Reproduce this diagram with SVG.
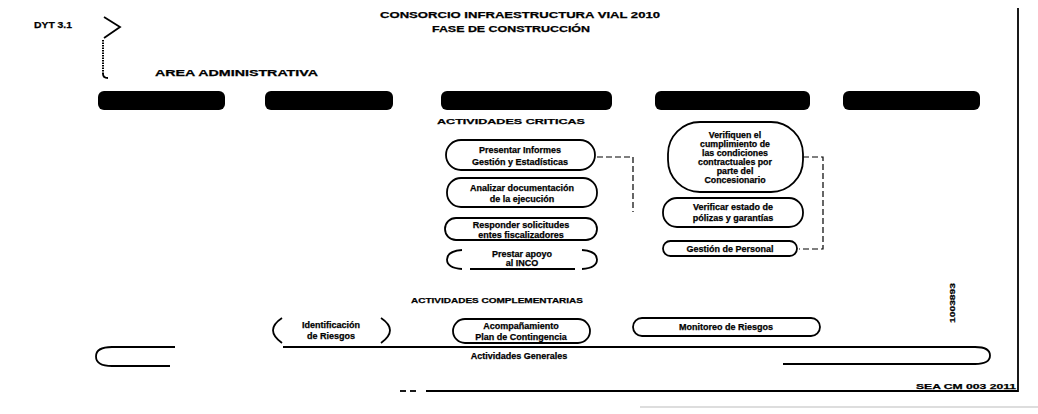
<svg xmlns="http://www.w3.org/2000/svg" width="1038" height="414" viewBox="0 0 1038 414">
<style>
 text{font-family:"Liberation Sans",Arial,sans-serif;font-weight:bold;fill:#000;stroke:#000;stroke-width:0.25}
 .t{font-size:9px;text-anchor:middle}
 .s{font-size:8.8px}
 .h{font-size:9px}
 .bar{fill:#000}
 .ov{fill:none;stroke:#000;stroke-width:1.8}
 .dash{fill:none;stroke:#000;stroke-width:1.2;stroke-dasharray:6 3}
 .ln{fill:none;stroke:#000;stroke-width:1.8}
</style>
<rect width="1038" height="414" fill="#fff"/>
<g id="header">
 <text x="34" y="28" class="h" font-size="8" textLength="38" lengthAdjust="spacingAndGlyphs">DYT 3.1</text>
 <path d="M104,17 L120,27 L104,38" class="ln" stroke-width="2.2"/>
 <path d="M103,40 V74" fill="none" stroke="#000" stroke-width="2" stroke-dasharray="1.5 1"/>
 <path d="M103,74 q0,4 5,4" class="ln"/>
 <text x="520" y="18" class="h" text-anchor="middle" textLength="280" lengthAdjust="spacingAndGlyphs">CONSORCIO INFRAESTRUCTURA VIAL 2010</text>
 <text x="511" y="32" class="h" font-size="8" text-anchor="middle" textLength="158" lengthAdjust="spacingAndGlyphs">FASE DE CONSTRUCCIÓN</text>
 <text x="155" y="76" class="h" textLength="163" lengthAdjust="spacingAndGlyphs">AREA ADMINISTRATIVA</text>
</g>
<g id="bars">
 <rect id="bar1" class="bar" x="98" y="91" width="127" height="19" rx="6"/>
 <rect id="bar2" class="bar" x="265" y="91" width="128" height="19" rx="6"/>
 <rect id="bar3" class="bar" x="441" y="91" width="171" height="19" rx="6"/>
 <rect id="bar4" class="bar" x="655" y="91" width="155" height="19" rx="6"/>
 <rect id="bar5" class="bar" x="843" y="91" width="137" height="19" rx="6"/>
</g>
<g id="frame">
 <line x1="1018" y1="8" x2="1018" y2="392" class="ln" stroke-width="2"/>
 <line x1="426" y1="391" x2="1018" y2="391" class="ln"/>
 <line x1="400" y1="391" x2="406" y2="391" class="ln"/>
 <line x1="410" y1="391" x2="416" y2="391" class="ln"/>
 <line x1="640" y1="407" x2="1038" y2="407" stroke="#bbb" stroke-width="1"/>
 <text x="1016" y="389" font-size="8" text-anchor="end" textLength="100" lengthAdjust="spacingAndGlyphs">SEA CM 003 2011</text>
 <text transform="translate(955,303) rotate(-90)" font-size="8" text-anchor="middle" textLength="40" lengthAdjust="spacingAndGlyphs">1003893</text>
</g>
<text x="511" y="124" font-size="8" text-anchor="middle" textLength="148" lengthAdjust="spacingAndGlyphs">ACTIVIDADES CRITICAS</text>
<g id="connectors">
 <path d="M597,157 H633 V212" class="dash"/>
 <path d="M803,157 H823 V249 H799" class="dash"/>
</g>
<g id="n-informes">
 <rect class="ov" x="446" y="140" width="149" height="30" rx="15"/>
 <text class="t" x="520" y="153">Presentar Informes</text>
 <text class="t" x="520" y="165">Gestión y Estadísticas</text>
</g>
<g id="n-analizar">
 <rect class="ov" x="447" y="178" width="150" height="29" rx="14"/>
 <text class="t" x="522" y="191">Analizar documentación</text>
 <text class="t" x="522" y="202">de la ejecución</text>
</g>
<g id="n-responder">
 <rect class="ov" x="445" y="218" width="152" height="22" rx="11"/>
 <text class="t" x="521" y="227.5">Responder solicitudes</text>
 <text class="t" x="521" y="237.5">entes fiscalizadores</text>
</g>
<g id="n-apoyo">
 <path class="ov" d="M462,250 Q447,251 447,259.5 Q447,268 462,269 M582,250 Q597,251 597,259.5 Q597,268 582,269 M470,269 H575"/>
 <text class="t" x="522" y="257">Prestar apoyo</text>
 <text class="t" x="522" y="266" font-size="7">al INCO</text>
</g>
<g id="n-verifiquen">
 <rect class="ov" x="668" y="122" width="135" height="70" rx="32"/>
 <text class="t s" x="735" y="138">Verifiquen el</text>
 <text class="t s" x="735" y="147">cumplimiento de</text>
 <text class="t s" x="735" y="156">las condiciones</text>
 <text class="t s" x="735" y="165">contractuales por</text>
 <text class="t s" x="735" y="174">parte del</text>
 <text class="t s" x="735" y="183">Concesionario</text>
</g>
<g id="n-polizas">
 <rect class="ov" x="663" y="198" width="140" height="29" rx="14"/>
 <text class="t" x="733" y="210">Verificar estado de</text>
 <text class="t" x="733" y="221">pólizas y garantías</text>
</g>
<g id="n-personal">
 <rect class="ov" x="663" y="241" width="134" height="15" rx="7.5"/>
 <text class="t" x="730" y="251.5">Gestión de Personal</text>
</g>
<text x="497" y="303" font-size="8" text-anchor="middle" textLength="172" lengthAdjust="spacingAndGlyphs">ACTIVIDADES COMPLEMENTARIAS</text>
<g id="n-identificacion">
 <path class="ov" d="M282,318 Q264,330 282,343 M381,318 Q399,330 381,343"/>
 <text class="t" x="331" y="328">Identificación</text>
 <text class="t" x="331" y="339">de Riesgos</text>
</g>
<g id="n-acompanamiento">
 <rect class="ov" x="453" y="319" width="137" height="24" rx="12"/>
 <text class="t" x="521" y="329">Acompañamiento</text>
 <text class="t" x="521" y="340">Plan de Contingencia</text>
</g>
<g id="n-monitoreo">
 <rect class="ov" x="633" y="318" width="187" height="18" rx="9"/>
 <text class="t" x="726" y="330">Monitoreo de Riesgos</text>
</g>
<g id="n-generales">
 <path class="ov" d="M175,347 H112 Q96,347 96,356.5 Q96,366 112,366 H170 M283,347 H975 Q990,347 990,355.5 Q990,364 975,364 H783"/>
 <text class="t" x="519" y="359">Actividades Generales</text>
</g>
</svg>
